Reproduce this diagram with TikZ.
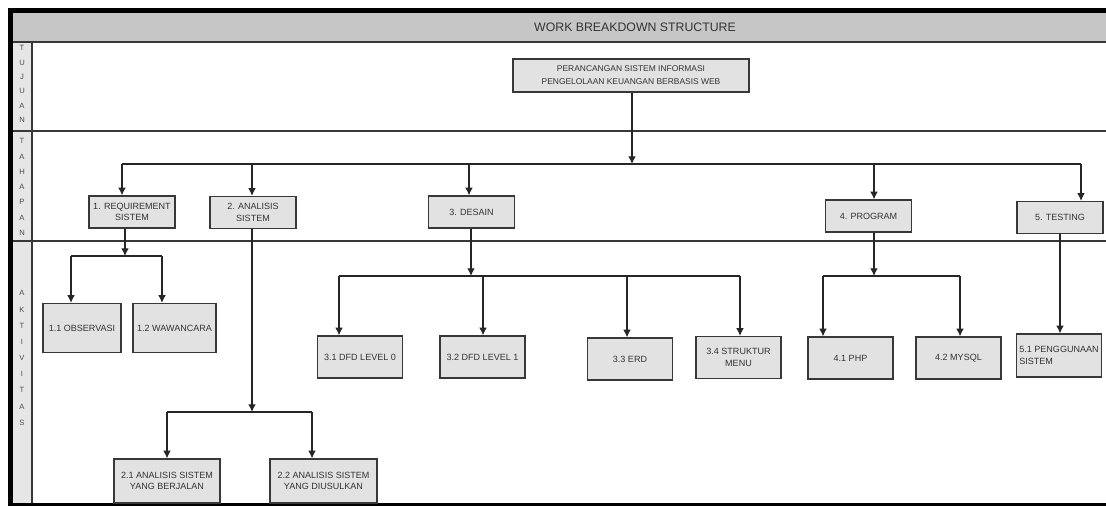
\documentclass[tikz,border=0pt]{standalone}
\usepackage{fontspec}
\newfontfamily\wbsfont{Liberation Sans}
\usetikzlibrary{calc,positioning,shapes,shadows,arrows.meta}
\definecolor{boxgray}{HTML}{E2E2E2}
\definecolor{headgray}{HTML}{C6C6C6}
\definecolor{sidegray}{HTML}{E6E6E6}
\definecolor{linegray}{HTML}{383838}
\tikzset{
		basic/.style  = {draw=linegray, line width=1.1pt, fill=boxgray, rectangle, align=center,
			font=\wbsfont\fontsize{7.7}{10}\selectfont, text=black!80, inner sep=1pt,
			drop shadow={shadow xshift=0.7pt, shadow yshift=-0.7pt, fill=black!45}},
		goal/.style   = {basic, font=\wbsfont\fontsize{7.2}{11}\selectfont,
			minimum width=7.08cm, minimum height=0.99cm},
		stage/.style  = {basic, minimum width=2.58cm, minimum height=0.96cm},
		task/.style   = {basic, minimum width=2.55cm, minimum height=1.26cm},
		lane/.style   = {font=\wbsfont\fontsize{6.5}{13.8}\selectfont, text=black!70, align=center, inner sep=0pt},
		link/.style   = {draw=black!85, line width=0.95pt}
	}

\begin{document}
\begin{tikzpicture}[x=0.03cm, y=-0.03cm, >={Latex[length=6.5pt,width=6.5pt]}]
		\useasboundingbox (0,0) rectangle (1106,506);
		% frame, header and lanes
		\fill[headgray] (13,13) rectangle (1106,42);
		\fill[sidegray] (13,42) rectangle (32,503);
		\fill[black] (8,8) rectangle (1106,13);
		\fill[black] (8,8) rectangle (13,506);
		\fill[black] (8,503) rectangle (1106,506);
		\draw[linegray, line width=1.6pt] (13,42) -- (1106,42) (13,131) -- (1106,131) (13,241) -- (1106,241);
		\draw[linegray, line width=1pt] (32,42) -- (32,503);
		\node[font=\wbsfont\fontsize{10.5}{12}\selectfont, text=black!80] (title) at (635,27) {WORK BREAKDOWN STRUCTURE};
		\node[lane, font=\wbsfont\fontsize{6.5}{12.2}\selectfont] (tujuan) at (22,84) {T\\U\\J\\U\\A\\N};
		\node[lane, font=\wbsfont\fontsize{6.5}{13}\selectfont] (tahapan) at (22,187) {T\\A\\H\\A\\P\\A\\N};
		\node[lane] (aktivitas) at (22,358) {A\\K\\T\\I\\V\\I\\T\\A\\S};
		% goal and stages
		\node[goal] (goal) at (631,75.5) {PERANCANGAN SISTEM INFORMASI\\PENGELOLAAN KEUANGAN BERBASIS WEB};
		\node[stage] (s1) at (132,212) {1. REQUIREMENT\\SISTEM};
		\node[stage] (s2) at (253,212.5) {2. ANALISIS\\SISTEM};
		\node[stage] (s3) at (471.5,212) {3. DESAIN};
		\node[stage] (s4) at (868.5,216) {4. PROGRAM};
		\node[stage] (s5) at (1060,217.5) {5. TESTING};
		% activities
		\begin{scope}[every node/.style={task}]
			\node[minimum width=2.34cm, minimum height=1.47cm] (s11) at (82,328) {1.1 OBSERVASI};
			\node[minimum width=2.49cm, minimum height=1.47cm] (s12) at (174.5,328) {1.2 WAWANCARA};
			\node[minimum width=3.18cm, minimum height=1.32cm] (s21) at (167,481) {2.1 ANALISIS SISTEM\\YANG BERJALAN};
			\node[minimum width=3.21cm, minimum height=1.32cm] (s22) at (323.5,481) {2.2 ANALISIS SISTEM\\YANG DIUSULKAN};
			\node (s31) at (360,357) {3.1 DFD LEVEL 0};
			\node (s32) at (482.5,357) {3.2 DFD LEVEL 1};
			\node (s33) at (630,359) {3.3 ERD};
			\node (s34) at (738.5,357.5) {3.4 STRUKTUR\\MENU};
			\node (s41) at (850.5,358) {4.1 PHP};
			\node (s42) at (958.5,358) {4.2 MYSQL};
			\node[align=left, minimum height=1.29cm] (s51) at (1059,355.5) {5.1 PENGGUNAAN\\SISTEM\hspace*{2.1em}};
		\end{scope}
		% buses
		\coordinate (bus0) at (632,164);
		\coordinate (bus1) at (125,256);
		\coordinate (bus2) at (252,412);
		\coordinate (bus3) at (471,276);
		\coordinate (bus4) at (874,276);
		\draw[link,->] (goal.south -| bus0) -- (bus0);
		\foreach \value/\dx in {1/-10,2/-1,3/-2.5,4/5.5,5/21}
		{
			\path ($(s\value.north)+(\dx,0)$) coordinate (in\value);
			\draw[link,->] (in\value |- bus0) -- (in\value);
		}
		\draw[link] (in1 |- bus0) -- (in5 |- bus0);
		\foreach \value in {1,...,4}
		\draw[link,->] (s\value.south -| bus\value) -- (bus\value);
		\draw[link,->] (s5.south) -- (s5.south |- s51.north);
		% activity arrows
		\foreach \value/\stage/\dx in {11/1/-11,12/1/-12.5,21/2/0,22/2/-11.5,31/3/-21,32/3/0.5,33/3/-3,34/3/1.5,41/4/-27.5,42/4/1.5}
		{
			\path ($(s\value.north)+(\dx,0)$) coordinate (in\value);
			\draw[link,->] (in\value |- bus\stage) -- (in\value);
		}
		\draw[link] (in11 |- bus1) -- (in12 |- bus1);
		\draw[link] (in21 |- bus2) -- (in22 |- bus2);
		\draw[link] (in31 |- bus3) -- (in34 |- bus3);
		\draw[link] (in41 |- bus4) -- (in42 |- bus4);
	\end{tikzpicture}
\end{document}
